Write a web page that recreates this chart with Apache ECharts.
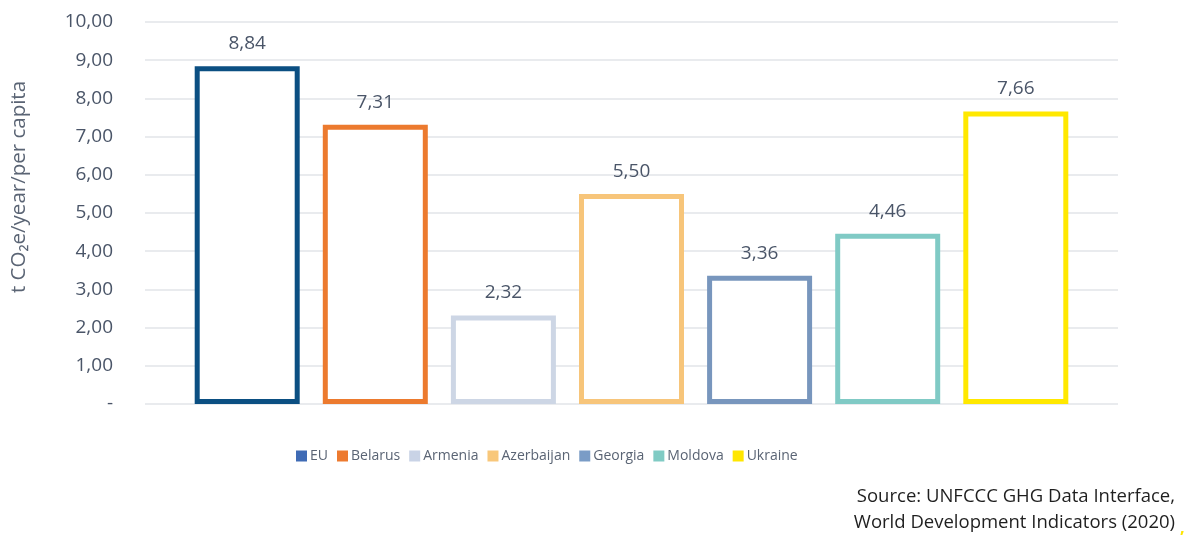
<!DOCTYPE html>
<html><head><meta charset="utf-8">
<script src="https://cdn.jsdelivr.net/npm/echarts@6/dist/echarts.min.js"></script>
<style>html,body{margin:0;padding:0;background:#fff}#c{width:1187px;height:538px}</style>
</head><body><div id="c"></div>
<script>
const countries = ['EU','Belarus','Armenia','Azerbaijan','Georgia','Moldova','Ukraine'];
const values = [8.84, 7.31, 2.32, 5.50, 3.36, 4.46, 7.66];
const borderColors = ['#0b4f82','#ec7a2e','#cdd6e5','#f7c57a','#7896bd','#80cac5','#ffe800'];
const legendColors = ['#3f6bb5','#ed7a2f','#c9d3e6','#f8c77a','#7a9cc6','#80cbc4','#ffe600'];
const yTicks = [0,1,2,3,4,5,6,7,8,9,10];

const fmt = v => v === 0 ? '-' : v.toFixed(2).replace('.', ',');
const chart = echarts.init(document.getElementById('c'));
chart.setOption({
  animation: false,
  textStyle: {fontFamily: 'Open Sans'},
  grid: {left: 145, right: 69, top: 22, bottom: 134},
  legend: {
    top: 444, left: 291, itemWidth: 11, itemHeight: 11, itemGap: 9,
    icon: 'rect',
    textStyle: {fontSize: 14, color: '#5a6474', padding: [0,0,0,-2]},
    data: countries.map((c,i)=>({name:c, itemStyle:{color:legendColors[i], borderWidth:0}}))
  },
  xAxis: {type:'category', data:[''], axisLine:{show:false}, axisTick:{show:false}, axisLabel:{show:false}},
  yAxis: {
    type:'value', min: yTicks[0], max: yTicks[yTicks.length-1], interval: 1,
    axisLabel:{formatter: fmt, fontSize:19, color:'#4a5568', margin: 32},
    splitLine:{lineStyle:{color:'#e2e4e8', width:1.5}},
    axisLine:{show:false}, axisTick:{show:false}
  },
  series: countries.map((c,i)=>({
    name:c, type:'bar', data:[values[i]],
    barWidth: 105, barGap: '22%', barCategoryGap: '10%',
    itemStyle:{color:'#ffffff', borderColor:borderColors[i], borderWidth:5},
    label:{show:true, position:'top', distance:13, formatter: p=>fmt(p.value), fontSize:19, color:'#4a5568'}
  })),
  graphic: [
    {type:'text', x: 19, y: 187, rotation: Math.PI/2,
     style:{text:'t CO₂e/year/per capita', font:'20.5px "Open Sans"', fill:'#5a6474', textAlign:'center', textVerticalAlign:'middle'}},
    {type:'text', right: 12, top: 487, style:{text:'Source: UNFCCC GHG Data Interface,', font:'18.5px "Open Sans"', fill:'#1f1f1f', textAlign:'right'}},
    {type:'text', right: 12, top: 513, style:{text:'World Development Indicators (2020)', font:'18.5px "Open Sans"', fill:'#1f1f1f', textAlign:'right'}},
    {type:'text', left: 1180, top: 520, style:{text:',', font:'bold 16px "Open Sans"', fill:'#ffe600'}}
  ]
});
</script></body></html>
